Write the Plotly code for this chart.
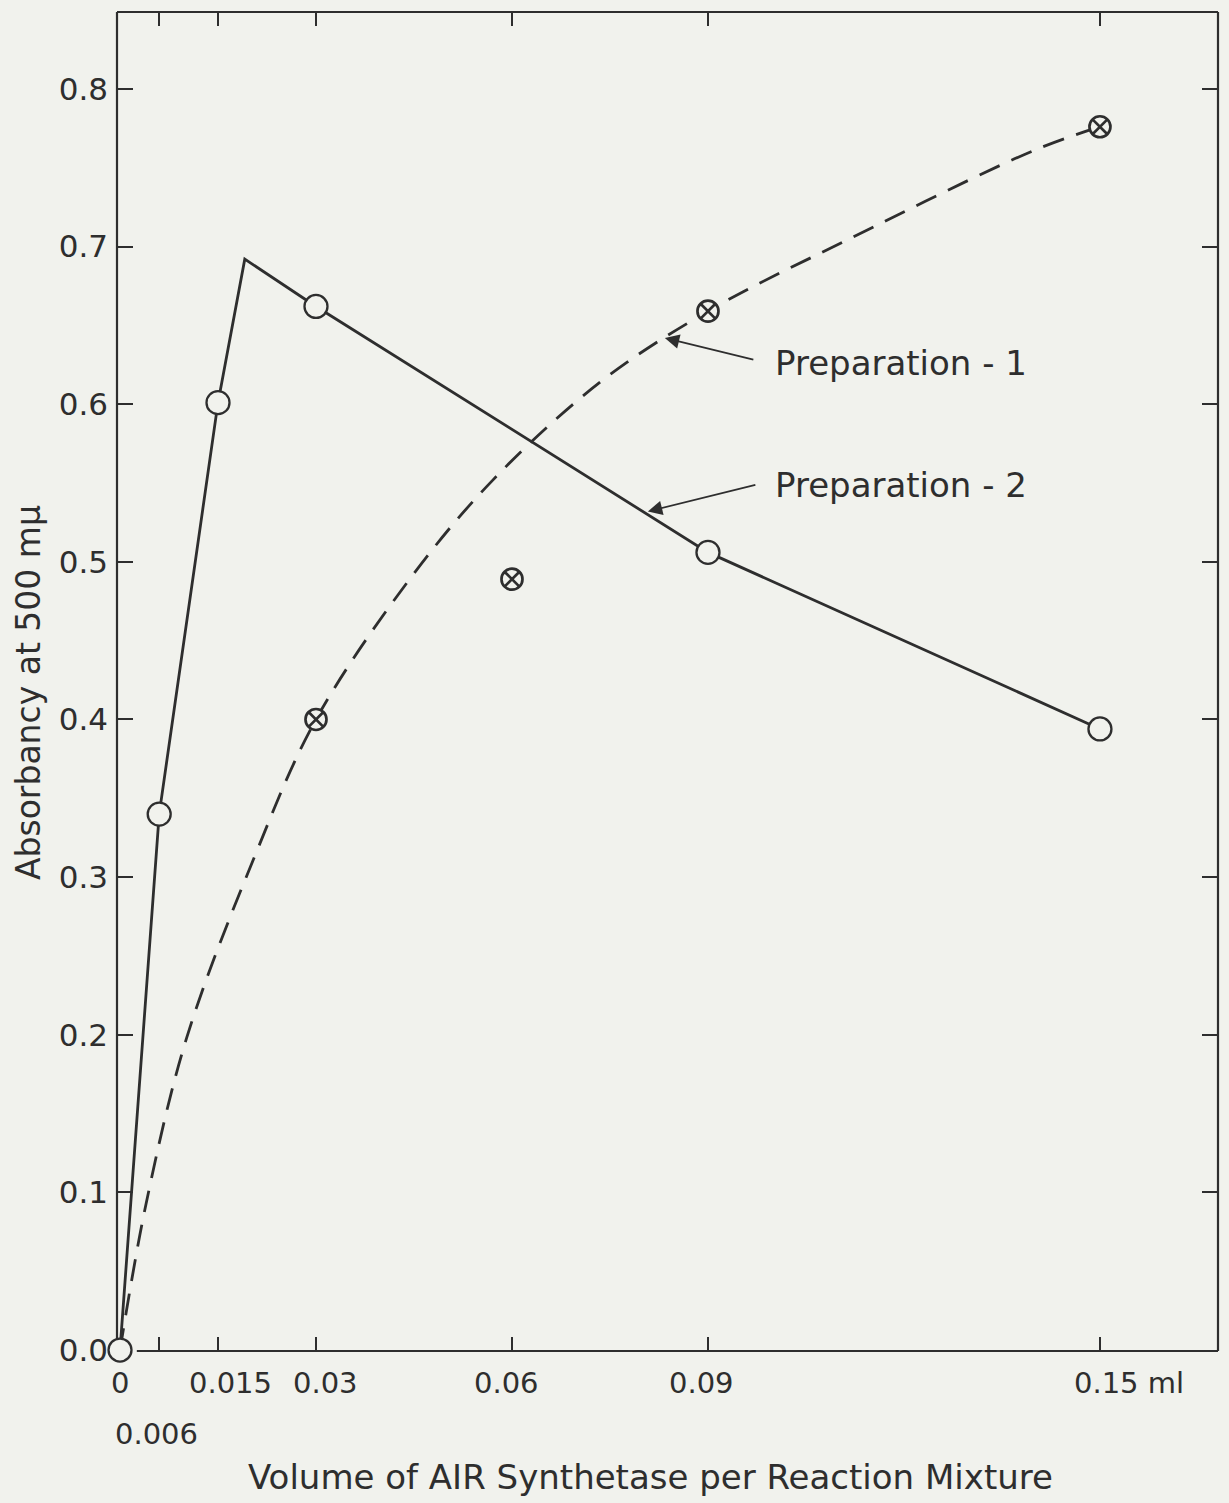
import plotly.graph_objects as go

# Measured points, Preparation-2 (open circles, solid line)
prep2_volume = [0.0, 0.006, 0.015, 0.03, 0.09, 0.15]
prep2_absorbancy = [0.0, 0.340, 0.601, 0.662, 0.506, 0.394]

# Hand-drawn solid line through Preparation-2 (with its apex)
prep2_line_volume = [0.0, 0.006, 0.015, 0.0191, 0.03, 0.09, 0.15]
prep2_line_absorbancy = [0.0, 0.340, 0.601, 0.692, 0.662, 0.506, 0.394]

# Measured points, Preparation-1 (crossed circles, dashed curve)
prep1_volume = [0.03, 0.06, 0.09, 0.15]
prep1_absorbancy = [0.400, 0.489, 0.659, 0.776]

# Hand-drawn dashed curve through Preparation-1
prep1_curve_volume = [0.0, 0.004, 0.0102, 0.0204, 0.030, 0.0447, 0.0571,
                      0.0735, 0.090, 0.1117, 0.1399, 0.150]
prep1_curve_absorbancy = [0.0, 0.093, 0.198, 0.311, 0.400, 0.491, 0.552,
                          0.614, 0.659, 0.705, 0.761, 0.776]

# Axis ticks and labels
x_tick_vals = [0.006, 0.015, 0.03, 0.06, 0.09, 0.15]
x_label_vals = [0.0, 0.015, 0.03, 0.06, 0.09, 0.15, 0.006]
x_label_text = ["0", "0.015", "0.03", "0.06", "0.09", "0.15 ml", "0.006"]
y_tick_vals = [0.0, 0.1, 0.2, 0.3, 0.4, 0.5, 0.6, 0.7, 0.8]
y_tick_text = ["0.0", "0.1", "0.2", "0.3", "0.4", "0.5", "0.6", "0.7", "0.8"]

INK = "#2e2e2e"
PAPER = "#f1f2ed"
FONT = "DejaVu Sans"

fig = go.Figure()

fig.add_trace(go.Scatter(
    x=prep1_curve_volume, y=prep1_curve_absorbancy, mode="lines",
    line=dict(color=INK, width=2.8, dash="22px,13px", shape="spline", smoothing=1.0),
    hoverinfo="skip", showlegend=False))
fig.add_trace(go.Scatter(
    x=prep2_line_volume, y=prep2_line_absorbancy, mode="lines",
    line=dict(color=INK, width=2.8),
    hoverinfo="skip", showlegend=False))
fig.add_trace(go.Scatter(
    x=prep2_volume, y=prep2_absorbancy, mode="markers",
    marker=dict(symbol="circle", size=23, color=PAPER, line=dict(color=INK, width=2.3)),
    name="Preparation-2", showlegend=False, cliponaxis=False))
fig.add_trace(go.Scatter(
    x=prep1_volume, y=prep1_absorbancy, mode="markers",
    marker=dict(symbol="circle-x", size=21, color=PAPER, line=dict(color=INK, width=2.7)),
    name="Preparation-1", showlegend=False, cliponaxis=False))

# Frame: the lower-left corner is left open around the origin point
frame = dict(type="line", line=dict(color=INK, width=2.2), layer="below")
fig.add_shape(**frame, xref="paper", yref="paper", x0=0, x1=0, y0=0.009, y1=1)
fig.add_shape(**frame, xref="paper", yref="paper", x0=0.018, x1=1, y0=0, y1=0)
fig.add_shape(**frame, xref="paper", yref="paper", x0=0, x1=1, y0=1, y1=1)
fig.add_shape(**frame, xref="paper", yref="paper", x0=1, x1=1, y0=0, y1=1)

annotations = []
label_font = dict(family=FONT, size=29, color=INK)
x_label_shift = [0, 12, 10, -5, -6, 0, -3]
x_label_drop = [-33, -33, -33, -33, -33, -33, -84]
for val, text, dx, dy in zip(x_label_vals, x_label_text, x_label_shift, x_label_drop):
    if text.endswith("ml"):
        annotations.append(dict(x=val, y=0, xref="x", yref="y", text=text, showarrow=False,
                                xanchor="left", yanchor="middle", xshift=-28, yshift=dy,
                                font=label_font))
    else:
        annotations.append(dict(x=val, y=0, xref="x", yref="y", text=text, showarrow=False,
                                xanchor="center", yanchor="middle", xshift=dx, yshift=dy,
                                font=label_font))

# Axis titles
annotations.append(dict(x=0.4845, y=-0.094, xref="paper", yref="paper",
                        text="Volume of AIR Synthetase per Reaction Mixture",
                        showarrow=False, xanchor="center", yanchor="middle",
                        font=dict(family=FONT, size=34, color=INK)))
annotations.append(dict(x=-0.081, y=0.492, xref="paper", yref="paper",
                        text="Absorbancy at 500 mμ", textangle=-90,
                        showarrow=False, xanchor="center", yanchor="middle",
                        font=dict(family=FONT, size=33, color=INK)))

# Curve labels with pointer arrows
annotations.append(dict(x=0.0834, y=0.642, xref="x", yref="y", ax=90, ay=22, text="",
                        showarrow=True, arrowhead=2, arrowsize=1.6, arrowwidth=1.8,
                        arrowcolor=INK))
annotations.append(dict(x=0.0808, y=0.532, xref="x", yref="y", ax=109, ay=-27, text="",
                        showarrow=True, arrowhead=2, arrowsize=1.6, arrowwidth=1.8,
                        arrowcolor=INK))
annotations.append(dict(x=0.09995, y=0.626, xref="x", yref="y", text="Preparation - 1",
                        showarrow=False, xanchor="left", yanchor="middle",
                        font=dict(family=FONT, size=34, color=INK)))
annotations.append(dict(x=0.09995, y=0.549, xref="x", yref="y", text="Preparation - 2",
                        showarrow=False, xanchor="left", yanchor="middle",
                        font=dict(family=FONT, size=34, color=INK)))

fig.update_layout(
    width=1229, height=1503,
    margin=dict(l=117, r=11, t=12, b=152),
    paper_bgcolor=PAPER, plot_bgcolor=PAPER,
    font=dict(family=FONT, color=INK),
    annotations=annotations,
)
fig.update_xaxes(
    range=[-0.00046, 0.16807], showgrid=False, zeroline=False, showline=False,
    tickvals=x_tick_vals, ticktext=[""] * len(x_tick_vals),
    ticks="inside", ticklen=14, tickwidth=2, tickcolor=INK, mirror="ticks")
fig.update_yaxes(
    range=[-0.0006, 0.8488], showgrid=False, zeroline=False, showline=False,
    tickvals=y_tick_vals, ticktext=y_tick_text,
    ticks="inside", ticklen=16, tickwidth=2, tickcolor=INK, mirror="ticks",
    tickfont=dict(family=FONT, size=31, color=INK), ticklabelstandoff=8)

fig.write_html("out.html")
